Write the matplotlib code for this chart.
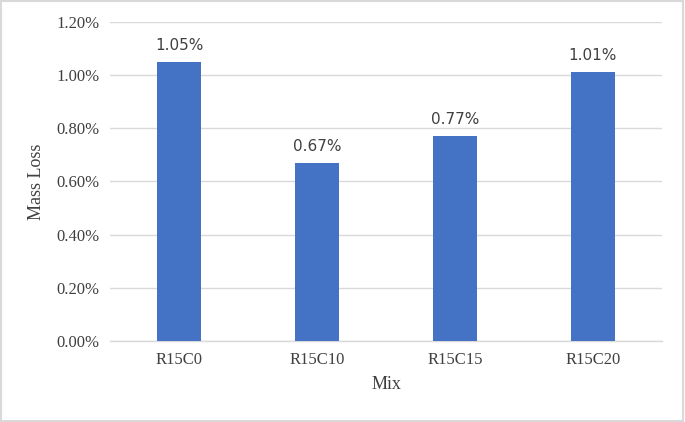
import matplotlib
matplotlib.use("Agg")
import matplotlib.pyplot as plt
from matplotlib.ticker import FuncFormatter, MultipleLocator
from matplotlib.patches import Rectangle

categories = ["R15C0", "R15C10", "R15C15", "R15C20"]
mass_loss = [1.05, 0.67, 0.77, 1.01]
labels = ["1.05%", "0.67%", "0.77%", "1.01%"]

fig = plt.figure(figsize=(6.85, 4.22), dpi=100)
ax = fig.add_axes([0.161, 0.192, 0.805, 0.756])

x = range(len(categories))
bars = ax.bar(x, mass_loss, width=0.32, color="#4472C4", zorder=3)
for b, lab in zip(bars, labels):
    ax.text(b.get_x() + b.get_width() / 2, b.get_height() + 0.035, lab,
            ha="center", va="bottom", fontsize=11, family="DejaVu Sans",
            color="#404040")

ax.set_xlim(-0.5, 3.5)
ax.set_ylim(0, 1.2)
ax.yaxis.set_major_locator(MultipleLocator(0.2))
ax.yaxis.set_major_formatter(FuncFormatter(lambda v, p: f"{v:.2f}%"))
ax.set_xticks(list(x))
ax.set_xticklabels(categories)
ax.grid(axis="y", color="#d9d9d9", linewidth=1.0, zorder=0)
for s in ["top", "right", "left"]:
    ax.spines[s].set_visible(False)
ax.spines["bottom"].set_color("#d9d9d9")
ax.spines["bottom"].set_linewidth(1.0)
ax.tick_params(axis="both", length=0, labelsize=12, colors="#404040", pad=8)
for t in ax.get_xticklabels() + ax.get_yticklabels():
    t.set_family("Liberation Serif")
ax.set_xlabel("Mix", family="Liberation Serif", fontsize=13, color="#404040", labelpad=6)
ax.set_ylabel("Mass Loss", family="Liberation Serif", fontsize=13, color="#404040", labelpad=8)

fig.patches.append(Rectangle((0.002, 0.003), 0.995, 0.994, transform=fig.transFigure,
                             fill=False, edgecolor="#d9d9d9", linewidth=1.5))

fig.savefig("out.png", dpi=100)
